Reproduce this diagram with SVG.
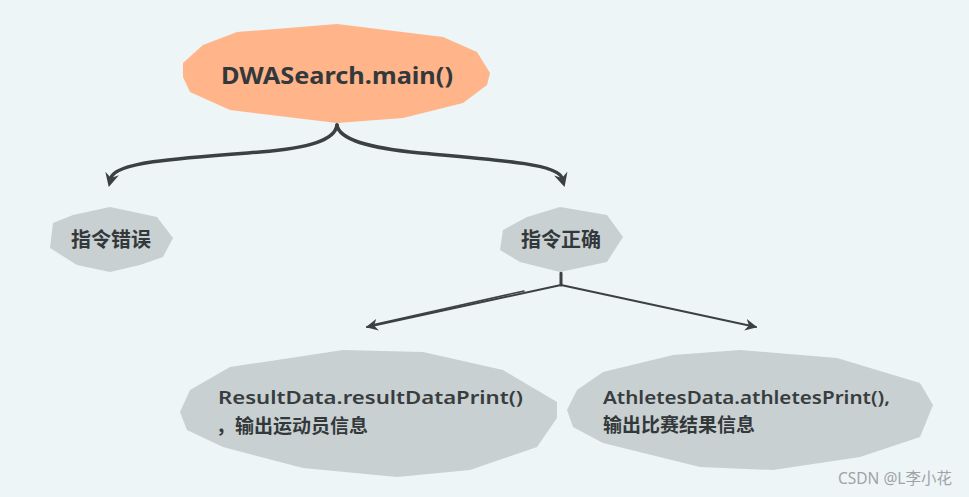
<svg xmlns="http://www.w3.org/2000/svg" width="969" height="497" viewBox="0 0 969 497">
<defs>
<style>
.bg{fill:#edf5f7}
.root{fill:#ffb48a}
.blob{fill:#c9d0d1}
.t{fill:#33383b;font-family:"Noto Sans","Noto Sans CJK SC",sans-serif;font-weight:bold}
.cj{fill:#33383b;font-family:"Noto Sans CJK SC",sans-serif;font-weight:bold}
.c{fill:#383d40;font-family:"Noto Sans","Noto Sans CJK SC",sans-serif;font-weight:600}
.ln{fill:none;stroke:#3b4043;stroke-linecap:round}
</style>
<marker id="ah" viewBox="0 0 12 12" refX="4" refY="6" markerWidth="14" markerHeight="14" orient="auto" markerUnits="userSpaceOnUse">
<path d="M0,0 L12,6 L0,12 L4,6 Z" fill="#3b4043"/>
</marker>
<marker id="ah2" viewBox="0 0 10 10" refX="9" refY="5" markerWidth="6" markerHeight="6" orient="auto" markerUnits="strokeWidth">
<path d="M0,0 L10,5 L0,10 L3,5 Z" fill="#3b4043"/>
</marker>
</defs>
<rect class="bg" x="0" y="0" width="969" height="497"/>
<g id="connectors">
<path class="ln" stroke-width="3.5" d="M337,125 C335,140 310,148 260,152 C180,158 115,162 111,178" marker-end="url(#ah)"/>
<path class="ln" stroke-width="3.5" d="M337,125 C339,140 370,148 420,153 C500,160 558,164 562,178" marker-end="url(#ah)"/>
<path class="ln" stroke-width="3" d="M561,273 L561,285"/>
<path class="ln" stroke-width="2" d="M561,285 L367,327" marker-end="url(#ah2)"/>
<path class="ln" stroke-width="1.5" d="M524,291 L372,325"/>
<path class="ln" stroke-width="2" d="M561,285 L756,327" marker-end="url(#ah2)"/>
</g>
<g id="node-main">
<path class="root" d="M183,63 L203,45 L237,32 L337,24 L443,37 L477,52 L490,73 L487,85 L463,103 L403,118 L337,123 L230,110 L190,92 L183,77 Z"/>
<text class="t" x="337" y="84" font-size="24" text-anchor="middle" textLength="232" lengthAdjust="spacingAndGlyphs">DWASearch.main()</text>
</g>
<g id="node-error">
<path class="blob" d="M53,223 L73,215 L110,207 L157,217 L173,238 L163,257 L140,265 L110,272 L77,265 L50,248 Z"/>
<text class="cj" x="111" y="247" font-size="20" text-anchor="middle">指令错误</text>
</g>
<g id="node-ok">
<path class="blob" d="M503,230 L527,217 L560,207 L607,215 L623,237 L607,262 L560,272 L520,262 L500,250 Z"/>
<text class="cj" x="561" y="247" font-size="20" text-anchor="middle">指令正确</text>
</g>
<g id="node-result">
<path class="blob" d="M180,412 L190,390 L230,367 L310,355 L343,350 L423,352 L503,370 L557,402 L557,418 L537,447 L470,470 L397,477 L303,468 L223,447 L187,430 Z"/>
<text class="c" x="218" y="404" font-size="17.5" textLength="305" lengthAdjust="spacingAndGlyphs">ResultData.resultDataPrint()</text>
<text class="cj" x="216" y="433" font-size="19">，输出运动员信息</text>
</g>
<g id="node-athletes">
<path class="blob" d="M567,410 L577,390 L603,372 L673,355 L740,350 L837,358 L920,383 L933,405 L920,437 L860,457 L773,470 L700,467 L603,443 L573,427 Z"/>
<text class="c" x="603" y="404" font-size="17.5" textLength="287" lengthAdjust="spacingAndGlyphs">AthletesData.athletesPrint(),</text>
<text class="cj" x="603" y="432" font-size="19">输出比赛结果信息</text>
</g>
<text x="838" y="484" font-size="15.5" fill="#a0a4a6" font-family="'Noto Sans','Noto Sans CJK SC',sans-serif">CSDN @L李小花</text>
</svg>
